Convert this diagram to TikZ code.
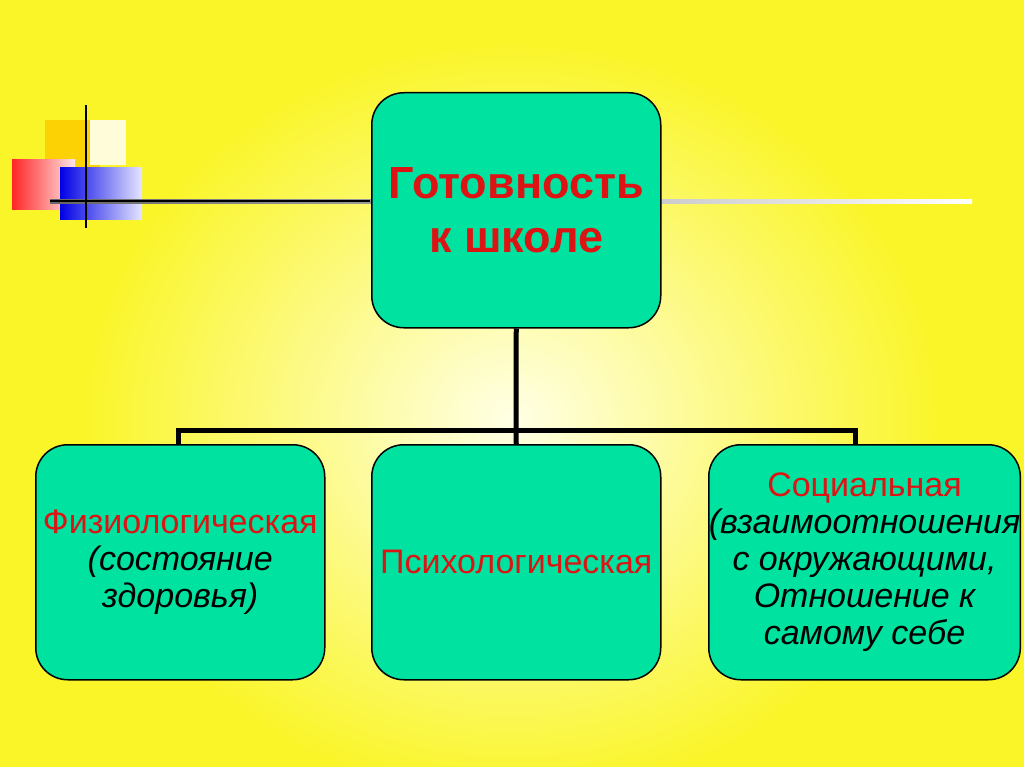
\documentclass[tikz,border=0pt]{standalone}
\usepackage{fontspec}
\setmainfont{Liberation Sans}
\begin{document}
\begin{tikzpicture}[x=1pt,y=-1pt,
  box/.style={draw=black,line width=1.5pt,fill=boxg,rounded corners=32pt,minimum width=289pt,minimum height=235pt,align=center,anchor=north west,inner sep=0pt},
  sub/.style={font=\fontsize{34}{37}\selectfont},
  conn/.style={line width=5pt}]
\definecolor{boxg}{RGB}{0,226,160}
\definecolor{ttl}{RGB}{220,20,20}
\definecolor{bg}{RGB}{250,245,40}
\useasboundingbox (0,0) rectangle (1024,767);
\fill[bg] (0,0) rectangle (1024,767);
\shade[inner color=white!90!yellow,outer color=bg] (512,420) ellipse (430 and 380);
% decoration
\fill[yellow!70!orange] (45,120) rectangle (100,170);
\fill[yellow!15!white] (90,120) rectangle (126,165);
\shade[left color=red!85,right color=red!10!white] (12,160) rectangle (75,210);
\shade[left color=blue!90!black,right color=blue!10!white] (60,168) rectangle (142,220);
\shade[left color=gray!80!black,right color=white] (50,200) rectangle (972,204);
\draw[line width=2pt] (50,201) -- (370,201);
\draw[line width=2.5pt] (86,105) -- (86,228);
% boxes
\node[box,font=\fontsize{45}{54}\selectfont\bfseries,text=ttl] (top) at (371,92) {Готовность\\к школе};
\node[box,sub] (l) at (35,444) {{\color{ttl}Физиологическая}\\\itshape(состояние\\\itshape здоровья)};
\node[box,sub,text=ttl] (m) at (371,444) {Психологическая};
\node[box,sub] (r) at (708,444) {{\color{ttl}Социальная}\\\itshape(взаимоотношения\\\itshape с окружающими,\\\itshape Отношение к\\\itshape самому себе};
\coordinate (j) at (516,430);
\draw[conn] (top.south) -- (j);
\draw[conn] (l.north -| 178,0) -- (178,430) -- (855,430) -- (r.north -| 855,0);
\draw[conn] (j) -- (m.north);
\end{tikzpicture}
\end{document}
